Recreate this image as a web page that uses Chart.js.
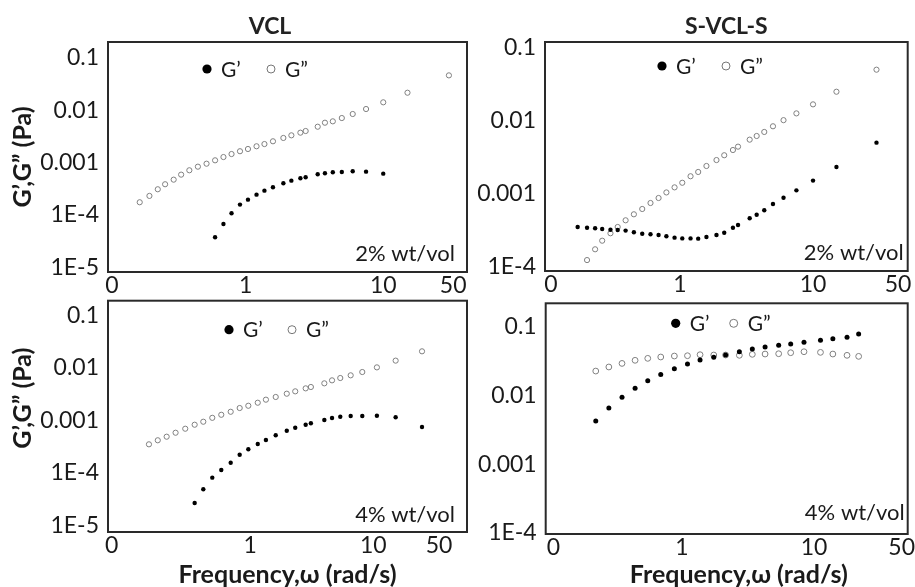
<!DOCTYPE html>
<html>
<head>
<meta charset="utf-8">
<title>G' and G'' frequency sweeps</title>
<script src="https://cdn.jsdelivr.net/npm/chart.js@4.4.1/dist/chart.umd.min.js"></script>
<style>
  body { margin: 0; background: #fff; }
  #wrap { position: relative; width: 915px; height: 587px; overflow: hidden; background: #fff; }
  #wrap canvas { position: absolute; }
</style>
</head>
<body>
<div id="wrap">
  <canvas id="vcl2" width="540" height="296" style="left:0;top:0"></canvas>
  <canvas id="svcls2" width="445" height="296" style="left:470px;top:0"></canvas>
  <canvas id="vcl4" width="540" height="293" style="left:0;top:294px"></canvas>
  <canvas id="svcls4" width="445" height="293" style="left:470px;top:294px"></canvas>
</div>
<script>
// frequency sweeps, rad/s
const freqTop = [0.17, 0.2, 0.23, 0.26, 0.3, 0.34, 0.39, 0.45, 0.52, 0.6, 0.69, 0.79, 0.91, 1.04, 1.2,
  1.37, 1.58, 1.88, 2.15, 2.5, 2.73, 3.34, 3.77, 4.3, 5.0, 6.0, 7.5, 10, 15, 30];
const freqVcl4 = [0.15, 0.177, 0.209, 0.247, 0.296, 0.353, 0.415, 0.491, 0.581, 0.693, 0.82, 0.964, 1.15,
  1.34, 1.61, 1.98, 2.32, 2.82, 3.11, 4.0, 4.62, 5.39, 6.55, 8.14, 10.7, 15.2, 24.9];
const freqSvcls4 = [0.222, 0.279, 0.351, 0.441, 0.55, 0.69, 0.875, 1.1, 1.37, 1.74, 2.14, 2.72, 3.41,
  4.26, 5.4, 6.66, 8.4, 11.2, 13.9, 17.8, 21.8];

// VCL 2% (Pa)
const vclStorage2 = [null, null, null, null, null, null, null, null, null,
  3.73e-5, 6.7e-5, 1.07e-4, 1.57e-4, 1.95e-4, 2.43e-4, 2.9e-4, 3.36e-4, 4.01e-4, 4.5e-4, 4.99e-4,
  5.22e-4, 5.96e-4, 6.22e-4, 6.5e-4, 6.59e-4, 6.79e-4, 6.68e-4, 6.12e-4, null, null];
const vclLoss2 = [1.74e-4, 2.3e-4, 3.08e-4, 3.84e-4, 4.7e-4, 5.86e-4, 7.1e-4, 8.32e-4, 9.48e-4, 1.1e-3,
  1.27e-3, 1.45e-3, 1.64e-3, 1.81e-3, 2.04e-3, 2.25e-3, 2.54e-3, 2.94e-3, 3.3e-3, 3.71e-3, 3.99e-3,
  4.82e-3, 5.75e-3, 6.11e-3, 7.06e-3, 8.43e-3, 0.0105, 0.0141, 0.0215, 0.0461];

// S-VCL-S 2% (Pa)
const svclsStorage2 = [3.51e-4, 3.43e-4, 3.37e-4, 3.3e-4, 3.22e-4, 3.19e-4, 3.13e-4, 2.97e-4, 2.84e-4,
  2.79e-4, 2.73e-4, 2.62e-4, 2.51e-4, 2.45e-4, 2.45e-4, 2.43e-4, 2.56e-4, 2.73e-4, 2.93e-4, 3.43e-4,
  3.73e-4, 4.61e-4, 5.16e-4, 5.93e-4, 7.23e-4, 8.81e-4, 1.11e-3, 1.51e-3, 2.32e-3, 4.98e-3];
const svclsLoss2 = [null, 1.24e-4, 1.74e-4, 2.28e-4, 2.88e-4, 3.51e-4, 4.33e-4, 5.23e-4, 6.18e-4, 7.46e-4,
  8.73e-4, 1.04e-3, 1.22e-3, 1.41e-3, 1.73e-3, 1.98e-3, 2.39e-3, 2.88e-3, 3.35e-3, 3.95e-3, 4.39e-3,
  5.47e-3, 6.14e-3, 6.97e-3, 8.33e-3, 0.0101, 0.0125, 0.0166, 0.0247, 0.0494];

// VCL 4% (Pa)
const vclStorage4 = [null, null, null, null, null,
  2.69e-5, 4.9e-5, 8.15e-5, 1.14e-4, 1.57e-4, 2.23e-4, 2.82e-4, 3.56e-4, 4.24e-4, 5.21e-4, 6.37e-4,
  7.26e-4, 8.28e-4, 8.81e-4, 1.02e-3, 1.11e-3, 1.17e-3, 1.21e-3, 1.21e-3, 1.23e-3, 1.15e-3, 7.5e-4];
const vclLoss4 = [3.51e-4, 4.19e-4, 4.9e-4, 5.83e-4, 6.95e-4, 8.28e-4, 9.44e-4, 1.12e-3, 1.28e-3, 1.46e-3,
  1.72e-3, 1.9e-3, 2.17e-3, 2.48e-3, 2.79e-3, 3.22e-3, 3.57e-3, 4.07e-3, 4.32e-3, 5.07e-3, 5.78e-3,
  6.4e-3, 7.2e-3, 8.32e-3, 0.0102, 0.0137, 0.0206];

// S-VCL-S 4% (Pa)
const svclsStorage4 = [4.23e-3, 6.55e-3, 9.37e-3, 0.0127, 0.0163, 0.0202, 0.0244, 0.0286, 0.0327, 0.0358,
  0.0387, 0.0432, 0.0473, 0.0506, 0.0535, 0.0559, 0.0592, 0.0633, 0.0668, 0.07, 0.0782];
const svclsLoss4 = [0.0226, 0.0259, 0.0292, 0.0324, 0.0346, 0.0362, 0.0374, 0.0378, 0.0391, 0.0387,
  0.0387, 0.0383, 0.0396, 0.04, 0.0404, 0.0418, 0.0432, 0.0423, 0.04, 0.0383, 0.037];

// axis ticks
const xTickLabels = ['0', '1', '10', '50'];
const yTickLabelsVcl = ['0.1', '0.01', '0.001', '1E-4', '1E-5'];
const yTickValsVcl = [0.1, 0.01, 0.001, 1e-4, 1e-5];
const yTickLabelsSvcls = ['0.1', '0.01', '0.001', '1E-4'];
const yTickValsSvcls = [0.1, 0.01, 0.001, 1e-4];

Chart.defaults.font.family = 'Lato, "Open Sans", sans-serif';
Chart.defaults.color = '#1a1a1a';

const pts = (xs, ys) => xs.map((x, i) => ({ x: x, y: ys[i] })).filter(p => p.y != null);

// frame, legend and concentration note inside each plot
const panelDecor = {
  id: 'panelDecor',
  afterDraw(chart, args, opts) {
    const ctx = chart.ctx, a = chart.chartArea;
    ctx.save();
    ctx.strokeStyle = '#2a2a2a';
    ctx.lineWidth = 2;
    ctx.strokeRect(a.left, a.top, a.right - a.left, a.bottom - a.top);

    ctx.font = '21px Lato';
    ctx.textBaseline = 'middle';
    let x = a.left + opts.legendX;
    const y = a.top + opts.legendY;
    chart.data.datasets.forEach((d, i) => {
      ctx.beginPath();
      ctx.arc(x, y, i == 0 ? 4.6 : 4, 0, Math.PI * 2);
      if (i == 0) {
        ctx.fillStyle = '#000';
        ctx.fill();
      } else {
        ctx.strokeStyle = '#777';
        ctx.lineWidth = 1;
        ctx.stroke();
      }
      ctx.fillStyle = '#1a1a1a';
      ctx.textAlign = 'left';
      ctx.fillText(d.label, x + 14, y + 1);
      x += opts.legendGap;
    });

    ctx.textAlign = 'right';
    ctx.font = '22px Lato';
    ctx.fillText(opts.note, a.right - opts.noteRight, a.bottom - opts.noteUp);
    ctx.restore();
  }
};

function panel(id, o) {
  return new Chart(document.getElementById(id), {
    type: 'scatter',
    data: {
      datasets: [
        { label: 'G’', data: pts(o.freq, o.storage), pointRadius: o.r,
          pointBackgroundColor: '#000', pointBorderColor: '#000', pointBorderWidth: 0 },
        { label: 'G”', data: pts(o.freq, o.loss), pointRadius: o.r + 0.4,
          pointBackgroundColor: 'rgba(255,255,255,0)', pointBorderColor: '#808080', pointBorderWidth: 1 }
      ]
    },
    options: {
      responsive: false,
      animation: false,
      events: [],
      layout: { padding: { top: o.padTop, right: o.padRight, left: 0, bottom: 0 } },
      plugins: {
        legend: { display: false },
        tooltip: { enabled: false },
        title: {
          display: !!o.title,
          text: o.title || '',
          fullSize: o.titleFull,
          color: '#222',
          font: { size: 23, weight: 'bold' },
          padding: { top: 13.2, bottom: 1.2 }
        },
        panelDecor: o.decor
      },
      scales: {
        x: {
          type: 'logarithmic',
          min: o.xMin, max: o.xMax,
          grid: { display: false, drawTicks: false },
          border: { display: false },
          ticks: {
            autoSkip: false, maxRotation: 0, padding: 0,
            font: { size: 23 }, color: '#1a1a1a',
            callback: (v, i) => xTickLabels[i]
          },
          title: {
            display: !!o.xTitle,
            text: o.xTitle || '',
            color: '#1a1a1a',
            font: { size: 25, weight: 'bold' },
            padding: { top: 0, bottom: -3 }
          },
          afterBuildTicks: s => { s.ticks = o.xTicks.map(v => ({ value: v })); },
          afterFit: s => {
            s.height = o.xHeight;
            s.paddingLeft = 0;
            s.paddingRight = 0;
          }
        },
        y: {
          type: 'logarithmic',
          min: o.yMin, max: o.yMax,
          grid: { display: false, drawTicks: false },
          border: { display: false },
          ticks: {
            autoSkip: false, padding: 9,
            font: { size: 23 }, color: '#1a1a1a',
            callback: (v, i) => o.yLabels[i]
          },
          title: {
            display: !!o.yTitle,
            text: o.yTitle || '',
            color: '#1a1a1a',
            font: { size: 25, weight: 'bold' },
            padding: { top: 8, bottom: 0 }
          },
          afterBuildTicks: s => { s.ticks = o.yTicks.map(v => ({ value: v })); },
          afterFit: s => {
            s.width = o.yWidth;
            s.paddingTop = 0;
            s.paddingBottom = 0;
          }
        },
        // empty strip on the right so the column title sits over the whole column
        gap: {
          position: 'right',
          display: o.rightGap > 0,
          grid: { display: false },
          border: { display: false },
          ticks: { display: false },
          afterFit: s => {
            s.width = o.rightGap;
            s.paddingTop = 0;
            s.paddingBottom = 0;
          }
        }
      }
    },
    plugins: [panelDecor]
  });
}

panel('vcl2', {
  title: 'VCL', titleFull: true, yTitle: 'G’,G” (Pa)',
  freq: freqTop, storage: vclStorage2, loss: vclLoss2, r: 2.2,
  xMin: 0.1, xMax: 40.6, xTicks: [0.107, 1, 10, 32.2],
  yMin: 8.1e-6, yMax: 0.2, yTicks: yTickValsVcl, yLabels: yTickLabelsVcl,
  padTop: 0, padRight: 0, rightGap: 73, yWidth: 108, xHeight: 24,
  decor: { legendX: 99, legendY: 27, legendGap: 64, note: '2% wt/vol', noteRight: 12, noteUp: 18 }
});

panel('svcls2', {
  title: 'S-VCL-S', titleFull: false,
  freq: freqTop, storage: svclsStorage2, loss: svclsLoss2, r: 2.2,
  xMin: 0.0966, xMax: 51.5, xTicks: [0.107, 1, 10, 43.6],
  yMin: 8.79e-5, yMax: 0.118, yTicks: yTickValsSvcls, yLabels: yTickLabelsSvcls,
  padTop: 0, padRight: 7.3, rightGap: 0, yWidth: 75, xHeight: 25,
  decor: { legendX: 117, legendY: 24, legendGap: 64, note: '2% wt/vol', noteRight: 4, noteUp: 18 }
});

panel('vcl4', {
  title: '', titleFull: true, yTitle: '      G’,G” (Pa)', xTitle: 'Frequency,ω (rad/s)',
  freq: freqVcl4, storage: vclStorage4, loss: vclLoss4, r: 2.2,
  xMin: 0.0697, xMax: 57.8, xTicks: [0.0747, 1, 10, 34.3],
  yMin: 7.55e-6, yMax: 0.189, yTicks: yTickValsVcl, yLabels: yTickLabelsVcl,
  padTop: 6.7, padRight: 73, rightGap: 0, yWidth: 108, xHeight: 55,
  decor: { legendX: 121, legendY: 29, legendGap: 63, note: '4% wt/vol', noteRight: 12, noteUp: 17 }
});

panel('svcls4', {
  title: '', titleFull: false, xTitle: '    Frequency,ω (rad/s)',
  freq: freqSvcls4, storage: svclsStorage4, loss: svclsLoss4, r: 2.5,
  xMin: 0.0927, xMax: 51.3, xTicks: [0.106, 1, 10, 46.2],
  yMin: 9.6e-5, yMax: 0.219, yTicks: yTickValsSvcls, yLabels: yTickLabelsSvcls,
  padTop: 9.3, padRight: 7.3, rightGap: 0, yWidth: 75.7, xHeight: 53,
  decor: { legendX: 130, legendY: 20, legendGap: 58, note: '4% wt/vol', noteRight: 3, noteUp: 21 }
});
</script>
</body>
</html>
